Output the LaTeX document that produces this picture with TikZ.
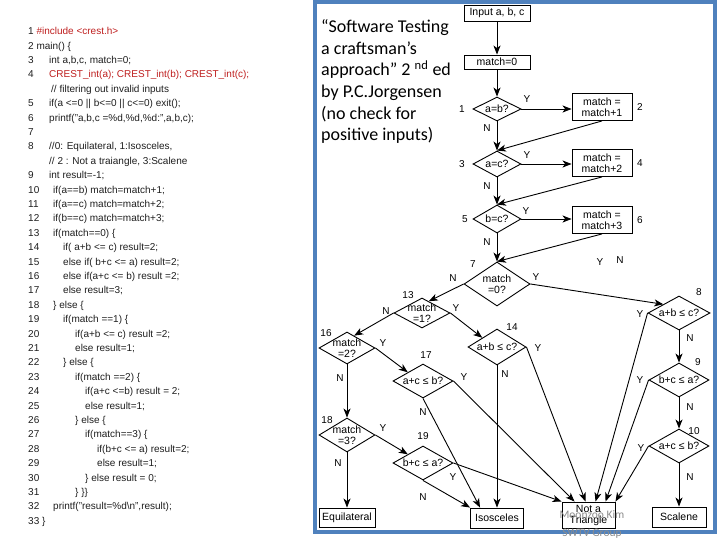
\documentclass[tikz,border=0pt]{standalone}
\usepackage{fontspec}
\setmainfont{Liberation Sans}
\newfontfamily\bookfont{Carlito}
\definecolor{FrameBlue}{RGB}{79, 129, 189}
\definecolor{CodeRed}{RGB}{190, 30, 30}
\definecolor{CodeInk}{RGB}{30, 30, 30}
\definecolor{StampGray}{RGB}{140, 140, 140}
\usepackage{tikz}
\usetikzlibrary{arrows.meta, positioning, shapes.geometric}
\tikzset{
  fbox/.style 2 args={rectangle, draw=black, line width=0.9pt, fill=white,
              minimum width=#1, minimum height=#2, inner sep=0pt,
              font=\fontsize{10.5}{11}\selectfont, align=center},
  dia/.style n args={3}{diamond, draw=black, line width=0.9pt, inner sep=0pt,
              minimum width=#1, minimum height=#2, label={[dtext]center:#3}},
  dtext/.style={font=\fontsize{10.5}{10.5}\selectfont, align=center, inner sep=0pt},
  arr/.style={-{Stealth[length=9pt, width=7pt, inset=2.5pt]}, line width=0.9pt},
  lbl/.style={font=\fontsize{10}{12}\selectfont, inner sep=0pt},
  codetext/.style={font=\fontsize{10}{14.4}\selectfont, text=CodeInk, inner sep=0pt},
  booktext/.style={font=\bookfont\fontsize{18}{21.6}\selectfont, align=left, inner sep=0pt},
  stamp/.style={font=\bookfont\fontsize{11.5}{12}\selectfont, text=StampGray, inner sep=0pt},
  frame/.style={draw=FrameBlue, line width=4pt},
}

\begin{document}
\begin{tikzpicture}[x=1pt, y=-1pt]
  \useasboundingbox (0,0) rectangle (720,540);

  %% SOURCE CODE
  \node[codetext, anchor=north west] (code) at (28,24.5) {%
    \begin{tabular}{@{}p{21pt}@{}l@{}}
      \multicolumn{2}{@{}l@{}}{1 \textcolor{CodeRed}{\#include <crest.h>}}\\
      \multicolumn{2}{@{}l@{}}{2 main() \{}\\
      3 & int a,b,c, match=0;\\
      4 & \textcolor{CodeRed}{CREST\_int(a); CREST\_int(b); CREST\_int(c);}\\
        & \hspace{2pt}// filtering out invalid inputs\\
      5 & if(a <=0 || b<=0 || c<=0) exit();\\
      6 & printf("a,b,c =\%d,\%d,\%d:",a,b,c);\\
      7 & \\
      8 & //0: Equilateral, 1:Isosceles,\\
        & // 2 : Not a traiangle, 3:Scalene\\
      9 & int result=-1;\\
      10 & \hspace{4pt}if(a==b) match=match+1;\\
      11 & \hspace{4pt}if(a==c) match=match+2;\\
      12 & \hspace{4pt}if(b==c) match=match+3;\\
      13 & \hspace{4pt}if(match==0) \{\\
      14 & \hspace{14pt}if( a+b <= c) result=2;\\
      15 & \hspace{14pt}else if( b+c <= a) result=2;\\
      16 & \hspace{14pt}else if(a+c <= b) result =2;\\
      17 & \hspace{14pt}else result=3;\\
      18 & \hspace{4pt}\} else \{\\
      19 & \hspace{14pt}if(match ==1) \{\\
      20 & \hspace{26pt}if(a+b <= c) result =2;\\
      21 & \hspace{26pt}else result=1;\\
      22 & \hspace{14pt}\} else \{\\
      23 & \hspace{26pt}if(match ==2) \{\\
      24 & \hspace{36pt}if(a+c <=b) result = 2;\\
      25 & \hspace{36pt}else result=1;\\
      26 & \hspace{26pt}\} else \{\\
      27 & \hspace{36pt}if(match==3) \{\\
      28 & \hspace{48pt}if(b+c <= a) result=2;\\
      29 & \hspace{48pt}else result=1;\\
      30 & \hspace{36pt}\} else result = 0;\\
      31 & \hspace{26pt}\} \}\}\\
      32 & \hspace{4pt}printf("result=\%d\textbackslash n",result);\\
      \multicolumn{2}{@{}l@{}}{33 \}}
    \end{tabular}};

  %% BOOK REFERENCE
  \node[booktext, anchor=north west] (book) at (321,19.5)
       {“Software Testing\\a craftsman’s\\approach” 2 \textsuperscript{nd} ed\\by P.C.Jorgensen\\(no check for\\positive inputs)};

  %% FRAME
  \draw[frame] (315,2) rectangle (715,532);

  %% FLOWCHART
  \node[fbox={66pt}{16pt}] (in) at (497,13) {Input a, b, c};
  \node[fbox={66pt}{14pt}] (m0) at (497,62) {match=0};
  \node[dia={48pt}{24pt}{a=b?}] (d1) at (497,109) {};
  \node[fbox={60pt}{27pt}] (b2) at (602,107) {match =\\match+1};
  \node[dia={48pt}{26pt}{a=c?}] (d3) at (497,164) {};
  \node[fbox={60pt}{27pt}] (b4) at (602,163) {match =\\match+2};
  \node[dia={48pt}{28pt}{b=c?}] (d5) at (497,219) {};
  \node[fbox={60pt}{27pt}] (b6) at (602,220) {match =\\match+3};
  \node[dia={66pt}{44pt}{match\\=0?}] (d7) at (497,284) {};

  \node[dia={62pt}{34pt}{a+b ≤ c?}] (d8) at (679,313) {};
  \node[dia={60pt}{34pt}{b+c ≤ a?}] (d9) at (679,380) {};
  \node[dia={60pt}{34pt}{a+c ≤ b?}] (d10) at (679,446) {};

  \node[dia={56pt}{30pt}{match\\=1?}] (d13) at (422,313) {};
  \node[dia={58pt}{36pt}{a+b ≤ c?}] (d14) at (497,347) {};
  \node[dia={56pt}{32pt}{match\\=2?}] (d16) at (347,348) {};
  \node[dia={60pt}{34pt}{a+c ≤ b?}] (d17) at (423,381) {};
  \node[dia={56pt}{34pt}{match\\=3?}] (d18) at (347,435) {};
  \node[dia={60pt}{34pt}{b+c ≤ a?}] (d19) at (423,463) {};

  \node[fbox={56pt}{19pt}] (eq) at (347,517.5) {Equilateral};
  \node[fbox={53pt}{20pt}] (iso) at (497,518) {Isosceles};
  \node[fbox={53pt}{26pt}] (nat) at (588.5,515) {Not a\\Triangle};
  \node[fbox={54pt}{20pt}] (sc) at (679,517) {Scalene};

  % main column
  \draw[arr] (in) -- (m0);
  \draw[arr] (m0) -- (d1);
  \draw[arr] (d1.east) -- (d1.east -| b2.west);
  \draw[arr] (d1) -- (d3);
  \draw[arr] (b2.south) -- (d3.north);
  \draw[arr] (d3.east) -- (d3.east -| b4.west);
  \draw[arr] (d3) -- (d5);
  \draw[arr] (b4.south) -- (d5.north);
  \draw[arr] (d5.east) -- (d5.east -| b6.west);
  \draw[arr] (d5) -- (d7);
  \draw[arr] (b6.south) -- (d7.north);

  % branches
  \draw[arr] (d7.east) -- (d8.north west);
  \draw[arr] (d7.west) -- (d13.60);
  \draw[arr] (d13.east) -- (d14.north west);
  \draw[arr] (d13.west) -- (d16.60);
  \draw[arr] (d16.east) -- (d17.north west);
  \draw[arr] (d16) -- (d18);
  \draw[arr] (d18.east) -- (d19.north west);
  \draw[arr] (d18) -- (eq);
  \draw[arr] (d8) -- (d9);
  \draw[arr] (d9) -- (d10);
  \draw[arr] (d10) -- (sc);

  % into Isosceles
  \draw[arr] (d14) -- (d14 |- iso.north);
  \draw[arr] (d17.south) -- ([xshift=10pt]iso.north west);
  \draw[arr] (d19.south) -- (iso.north west);

  % into Not a Triangle
  \draw[arr] (d19.east) -- (nat.north west);
  \draw[arr] (d17.east) -- ([xshift=13pt]nat.north west);
  \draw[arr] (d14.east) -- ([xshift=24pt]nat.north west);
  \draw[arr] (d8.west) -- ([xshift=34pt]nat.north west);
  \draw[arr] (d9.west) -- ([xshift=44pt]nat.north west);
  \draw[arr] (d10.west) -- (nat.north east);

  %% node numbers and Y/N labels
  \foreach \t/\x/\y [count=\i] in {1/462/109, 2/640/107, 3/462/164, 4/640/163,
      5/465/219, 6/640/220, 7/473/264, 8/699/292, 9/698/362, 10/694/431,
      13/408/295, 14/512/327, 16/326/333, 17/426/355, 18/327/420, 19/423/436}
    \node[lbl] (num\i) at (\x,\y) {\t};

  \foreach \t/\x/\y [count=\i] in {Y/527/99, N/487/128, Y/527/155, N/487/186,
      Y/526/211, N/487/242, N/453/278, Y/536/277, Y/600/262, N/620/260,
      Y/640/314, N/690/338, Y/640/380, N/690/407, Y/641/448, N/690/477,
      N/386/311, Y/456/308, Y/538/348, N/505/374, Y/383/343, N/340/378,
      Y/464/377, N/423/412, Y/383/428, N/338/463, Y/453/477, N/423/497}
    \node[lbl] (yn\i) at (\x,\y) {\t};

  %% stamp
  \node[stamp] (author) at (592,515) {Moonzoo Kim};
  \node[stamp] (group) at (592,534) {SWTV Group};

\end{tikzpicture}
\end{document}
